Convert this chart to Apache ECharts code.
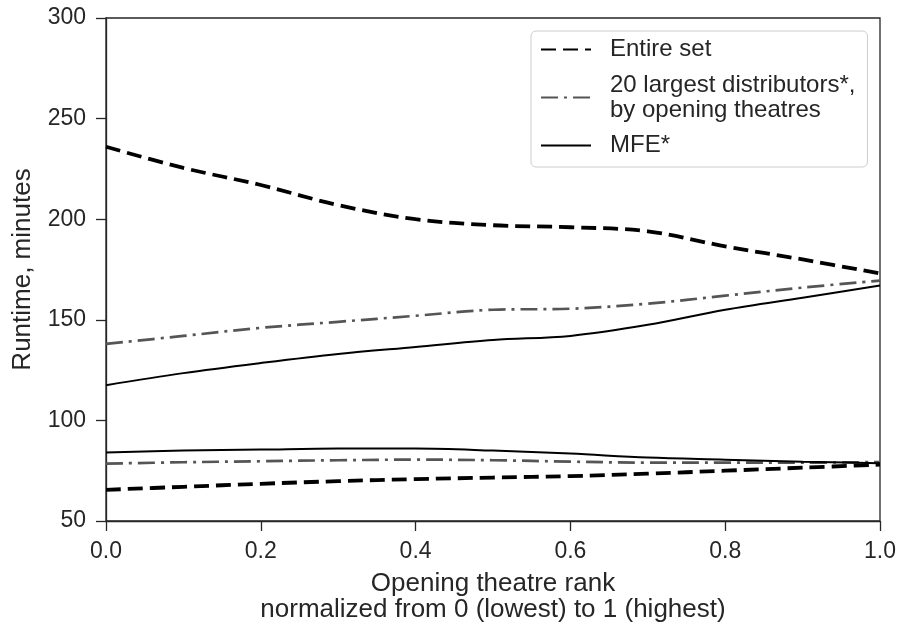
<!DOCTYPE html>
<html>
<head>
    <meta charset="UTF-8">
    <title>Runtime by opening theatre rank</title>
    <script src="https://cdn.jsdelivr.net/npm/echarts@6/dist/echarts.min.js"></script>
    <style>
        html, body { margin: 0; padding: 0; background: #fff; }
        #chart { width: 900px; height: 628px; }
    </style>
</head>
<body>
<div id="chart"></div>
<script>
    // opening theatre rank, normalized 0..1
    var ranks = [0, 0.1, 0.2, 0.3, 0.4, 0.5, 0.6, 0.7, 0.8, 0.9, 1.0];

    // entire set, upper and lower curves
    var entireUpper = [236, 225.5, 217, 207, 200, 197, 196, 194, 186.5, 180, 173];
    var entireLower = [65.5, 67, 68.5, 69.8, 70.8, 71.6, 72.3, 73.5, 75, 76.5, 78];

    // 20 largest distributors
    var distUpper = [138, 142, 146, 149, 152, 155, 155.5, 158, 162, 166, 169.5];
    var distLower = [78.5, 79.2, 79.7, 80.2, 80.5, 80.2, 79.5, 79, 79, 79, 79.3];

    // MFE
    var mfeUpper = [117.5, 123.5, 128.5, 133, 136.5, 140, 142, 147.5, 155, 161, 167];
    var mfeLower = [84, 85, 85.5, 86, 86, 85, 83.5, 81.5, 80.5, 79.5, 78.7];

    var yTicks = [50, 100, 150, 200, 250, 300];

    var names = ['Entire set', 'Distributors', 'MFE*'];
    var legendText = {
        'Entire set': 'Entire set',
        'Distributors': '20 largest distributors*,\nby opening theatres',
        'MFE*': 'MFE*'
    };

    var ink = '#262626';
    var font = 'Liberation Sans, Arial, Helvetica, sans-serif';

    function pairs(vals) {
        return ranks.map(function (x, i) { return [x, vals[i]]; });
    }

    var styles = {
        'Entire set': { color: '#000', width: 3.8, type: [15, 7] },
        'Distributors': { color: '#555555', width: 2.7, type: [17, 6, 3, 6] },
        'MFE*': { color: '#000', width: 2, type: 'solid' }
    };

    function line(name, vals, z) {
        var st = styles[name];
        return {
            name: name,
            type: 'line',
            data: pairs(vals),
            smooth: 0.35,
            symbol: 'none',
            z: z,
            lineStyle: { color: st.color, width: st.width, type: st.type },
            itemStyle: { color: st.color }
        };
    }

    var myChart = echarts.init(document.getElementById('chart'), null, { renderer: 'canvas' });

    myChart.setOption({
        animation: false,
        backgroundColor: '#fff',
        textStyle: { fontFamily: font, color: ink },
        grid: {
            left: 106, right: 20, top: 18, bottom: 107,
            outerBoundsMode: 'none',
            show: true, borderColor: ink, borderWidth: 1.3, backgroundColor: 'transparent'
        },
        legend: {
            data: names,
            orient: 'vertical',
            left: 531,
            top: 31,
            padding: [6, 12, 9, 9],
            itemWidth: 50,
            itemHeight: 14,
            itemGap: 10.5,
            backgroundColor: '#fff',
            borderColor: '#cccccc',
            borderWidth: 1,
            borderRadius: 5,
            itemStyle: { opacity: 0 },
            formatter: function (n) { return legendText[n]; },
            textStyle: {
                fontFamily: font, fontSize: 24, color: ink, lineHeight: 25,
                padding: [0, 0, 0, 14]
            }
        },
        xAxis: {
            type: 'value',
            min: 0, max: 1, interval: 0.2,
            name: 'Opening theatre rank\nnormalized from 0 (lowest) to 1 (highest)',
            nameLocation: 'middle',
            nameGap: 50,
            nameTextStyle: { fontFamily: font, fontSize: 26, color: ink, lineHeight: 26, verticalAlign: 'top' },
            axisLine: { show: true, lineStyle: { color: ink, width: 1.3 } },
            axisTick: { show: true, inside: false, length: 10, lineStyle: { color: ink, width: 1.3 } },
            axisLabel: {
                fontSize: 23, color: ink, margin: 19,
                formatter: function (v) { return v.toFixed(1); }
            },
            splitLine: { show: false }
        },
        yAxis: {
            type: 'value',
            min: yTicks[0], max: yTicks[yTicks.length - 1], interval: 50,
            name: 'Runtime, minutes',
            nameLocation: 'middle',
            nameRotate: 90,
            nameGap: 70,
            nameTextStyle: { fontFamily: font, fontSize: 26, color: ink },
            axisLine: { show: true, lineStyle: { color: ink, width: 1.3 } },
            axisTick: { show: true, inside: false, length: 10, lineStyle: { color: ink, width: 1.3 } },
            axisLabel: { fontSize: 23, color: ink, margin: 20 },
            splitLine: { show: false }
        },
        series: [
            line('Entire set', entireUpper, 3),
            line('Entire set', entireLower, 3),
            line('Distributors', distUpper, 2),
            line('Distributors', distLower, 2),
            line('MFE*', mfeUpper, 4),
            line('MFE*', mfeLower, 4)
        ]
    });
</script>
</body>
</html>
